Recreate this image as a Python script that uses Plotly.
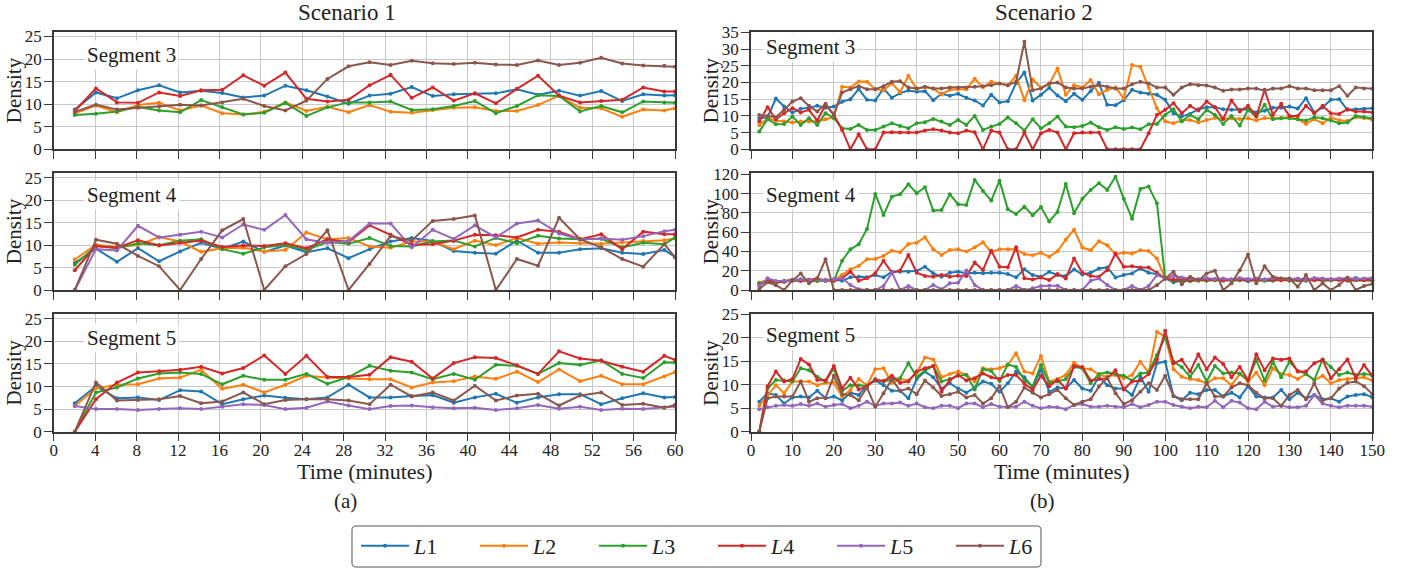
import plotly.graph_objects as go

# ---------------------------------------------------------------------------
# Data: density per lane (L1..L6) over time, two scenarios, three segments
# ---------------------------------------------------------------------------
LANES = ["L1", "L2", "L3", "L4", "L5", "L6"]
LANE_COLORS = ["#1f77b4", "#ff7f0e", "#2ca02c", "#d62728", "#9467bd", "#8c564b"]

# Scenario 1 is sampled every 122 s over one hour
TIME_S1 = [2.03, 4.07, 6.10, 8.13, 10.17, 12.20, 14.23, 16.27, 18.30, 20.33,
           22.37, 24.40, 26.43, 28.47, 30.50, 32.53, 34.57, 36.60, 38.63, 40.67,
           42.70, 44.73, 46.77, 48.80, 50.83, 52.87, 54.90, 56.93, 58.97, 60.00]
# Scenario 2 is sampled every 2 minutes over 150 minutes
TIME_S2 = list(range(2, 151, 2))

# ---- Scenario 1, Segment 3 ----
S1_SEG3_L1 = [8.8, 12.6, 11.3, 13.1, 14.2, 12.6, 13.0, 12.5, 11.5, 11.9,
              14.1, 13.1, 11.7, 10.1, 11.9, 12.3, 13.8, 11.8, 12.2, 12.3,
              12.4, 13.3, 12.1, 13.0, 11.9, 12.9, 10.7, 12.2, 11.9, 12.0]
S1_SEG3_L2 = [8.0, 9.7, 8.2, 9.8, 10.3, 8.6, 9.7, 8.0, 7.7, 8.3,
              10.4, 8.5, 9.4, 8.2, 9.8, 8.3, 8.1, 8.7, 9.2, 9.3,
              8.5, 8.5, 9.8, 11.9, 9.2, 9.1, 7.2, 8.8, 8.6, 9.1]
S1_SEG3_L3 = [7.6, 7.9, 8.4, 9.4, 8.6, 8.2, 10.9, 9.3, 7.7, 8.1,
              10.3, 7.4, 9.3, 10.4, 10.4, 10.6, 8.7, 8.9, 9.6, 10.7,
              8.0, 9.6, 12.0, 11.8, 8.4, 9.6, 8.2, 10.6, 10.4, 10.3]
S1_SEG3_L4 = [8.5, 13.5, 10.4, 10.3, 12.6, 11.8, 13.1, 13.2, 16.4, 14.1,
              17.0, 11.2, 10.6, 11.0, 14.2, 16.5, 11.4, 13.7, 10.8, 12.4,
              10.2, 13.4, 16.3, 11.9, 10.4, 10.7, 11.0, 13.7, 12.8, 12.8]
S1_SEG3_L6 = [8.3, 9.9, 8.8, 9.2, 9.5, 9.9, 9.7, 10.4, 11.2, 9.6,
              8.6, 10.8, 15.6, 18.4, 19.3, 18.7, 19.6, 19.1, 18.9, 19.2,
              18.8, 18.7, 19.7, 18.7, 19.2, 20.3, 19.0, 18.6, 18.5, 18.3]

# ---- Scenario 1, Segment 4 ----
S1_SEG4_L1 = [6.0, 9.2, 6.3, 9.3, 6.4, 8.6, 10.5, 9.2, 10.8, 8.5,
              9.9, 8.4, 9.3, 7.1, 9.1, 10.8, 11.6, 10.9, 8.7, 8.3,
              8.1, 11.0, 8.3, 8.3, 9.1, 9.3, 8.3, 8.0, 8.9, 7.4]
S1_SEG4_L2 = [6.8, 10.1, 9.6, 10.0, 11.8, 10.8, 8.5, 9.3, 9.4, 8.6,
              8.9, 12.8, 11.3, 11.6, 9.7, 9.4, 10.8, 10.8, 9.1, 11.0,
              10.0, 11.6, 10.3, 10.6, 10.4, 10.3, 10.6, 10.9, 11.1, 11.5]
S1_SEG4_L3 = [5.6, 9.8, 9.3, 10.4, 10.0, 11.0, 11.3, 9.1, 8.1, 9.5,
              10.0, 8.9, 10.7, 10.3, 11.6, 9.8, 9.7, 10.8, 11.0, 9.7,
              11.6, 10.4, 12.1, 11.5, 11.3, 11.4, 9.5, 10.5, 10.2, 11.7]
S1_SEG4_L4 = [4.4, 9.8, 9.4, 11.1, 9.9, 10.5, 11.0, 9.6, 9.9, 9.8,
              10.4, 9.3, 11.3, 10.7, 14.4, 12.3, 10.1, 10.2, 11.0, 12.3,
              12.2, 11.7, 13.4, 13.0, 11.3, 12.4, 9.1, 13.0, 12.4, 12.4]
S1_SEG4_L5 = [0.0, 9.1, 8.8, 14.3, 11.7, 12.3, 13.0, 11.7, 14.6, 13.4,
              16.7, 11.3, 10.5, 10.9, 14.8, 14.8, 9.5, 13.4, 11.4, 14.4,
              11.7, 14.8, 15.5, 12.6, 11.3, 11.5, 11.2, 12.0, 13.1, 13.4]
S1_SEG4_L6 = [0.0, 11.2, 10.3, 7.6, 5.3, 0.0, 6.9, 13.3, 15.8, 0.0,
              5.3, 8.0, 13.3, 0.0, 5.8, 12.0, 11.0, 15.4, 15.8, 16.6,
              0.0, 6.9, 5.4, 16.1, 11.3, 9.5, 6.9, 5.2, 10.2, 7.3]

# ---- Scenario 1, Segment 5 ----
S1_SEG5_L1 = [6.3, 10.1, 7.4, 7.6, 7.0, 9.2, 8.9, 6.1, 7.2, 8.0,
              7.5, 7.2, 7.6, 10.4, 7.6, 7.6, 7.9, 8.1, 6.4, 7.6,
              8.4, 6.4, 7.6, 8.3, 8.3, 6.1, 7.4, 8.5, 7.6, 7.7]
S1_SEG5_L2 = [5.7, 9.6, 10.4, 10.5, 11.8, 12.0, 13.7, 9.5, 10.4, 8.7,
              10.4, 12.4, 12.0, 11.8, 11.6, 11.6, 9.8, 10.9, 11.2, 12.2,
              11.7, 13.3, 11.0, 13.8, 11.2, 12.4, 10.5, 10.5, 12.2, 13.2]
S1_SEG5_L3 = [0.0, 8.7, 9.8, 11.8, 12.9, 13.1, 12.8, 10.5, 12.4, 11.5,
              11.5, 12.8, 10.6, 12.1, 14.6, 13.5, 13.1, 11.6, 12.8, 11.5,
              14.8, 14.6, 12.8, 15.2, 14.8, 15.8, 12.8, 11.9, 15.4, 15.3]
S1_SEG5_L4 = [0.0, 7.2, 10.9, 13.1, 13.4, 13.7, 14.4, 12.9, 14.1, 16.9,
              12.8, 16.8, 12.1, 12.1, 12.6, 16.5, 15.5, 11.8, 15.2, 16.5,
              16.3, 14.7, 12.8, 17.8, 16.2, 15.7, 14.4, 13.3, 16.8, 15.9]
S1_SEG5_L5 = [5.7, 5.0, 5.0, 4.8, 5.0, 5.2, 5.0, 5.5, 6.1, 5.9,
              5.0, 5.3, 6.7, 5.8, 5.0, 5.7, 5.8, 5.4, 5.2, 5.3,
              4.8, 5.2, 5.9, 5.1, 5.5, 4.8, 5.1, 5.0, 5.4, 5.6]
S1_SEG5_L6 = [0.0, 10.9, 6.9, 7.0, 7.2, 7.9, 6.3, 6.7, 8.7, 6.1,
              7.0, 7.2, 7.2, 6.9, 6.1, 10.4, 7.8, 8.7, 6.9, 10.2,
              6.9, 8.0, 8.4, 5.8, 8.0, 8.7, 5.9, 6.2, 5.3, 5.9]

# ---- Scenario 2, Segment 3 ----
S2_SEG3_L1 = [9.3, 9.6, 15.2, 12.8, 11.0, 12.1, 12.4, 13.0, 12.4, 12.8,
              14.2, 15.0, 18.0, 14.8, 14.6, 18.2, 15.4, 16.8, 17.6, 17.2,
              17.4, 14.7, 16.6, 16.0, 16.6, 15.4, 14.6, 13.1, 16.3, 14.0,
              14.4, 19.8, 23.0, 14.6, 16.3, 18.4, 16.1, 14.4, 16.6, 14.8,
              17.4, 19.9, 13.3, 13.2, 14.7, 17.8, 17.0, 16.6, 16.3, 14.8,
              10.8, 9.8, 10.6, 12.0, 12.6, 12.6, 12.0, 11.8, 11.8, 12.0,
              11.0, 11.5, 12.4, 12.4, 12.8, 12.2, 15.3, 11.0, 12.5, 14.8,
              15.0, 11.8, 12.0, 12.1, 12.3]
S2_SEG3_L2 = [7.2, 9.3, 8.6, 8.3, 8.0, 8.3, 8.3, 8.3, 9.0, 9.6,
              18.7, 18.5, 20.3, 20.2, 18.0, 17.6, 19.8, 17.1, 22.0, 18.0,
              18.6, 18.2, 16.4, 17.8, 18.0, 18.0, 21.1, 18.6, 20.2, 19.6,
              19.2, 22.0, 14.7, 20.9, 18.5, 19.5, 24.2, 16.3, 19.2, 18.5,
              20.7, 16.5, 17.8, 18.5, 15.2, 25.2, 24.7, 18.5, 12.3, 8.3,
              7.8, 8.6, 8.8, 8.0, 8.8, 9.4, 9.2, 9.3, 9.1, 9.3,
              8.6, 9.4, 9.2, 9.3, 9.6, 9.0, 7.6, 9.0, 7.8, 9.5,
              8.7, 8.5, 9.6, 9.4, 8.8]
S2_SEG3_L3 = [5.3, 9.1, 7.5, 7.6, 9.8, 7.3, 9.3, 7.3, 10.8, 9.3,
              6.3, 6.1, 7.3, 5.8, 5.8, 6.8, 7.8, 7.0, 6.3, 7.8,
              8.1, 9.1, 8.3, 7.3, 8.8, 7.3, 10.0, 5.8, 6.8, 7.6,
              9.5, 7.8, 5.6, 9.0, 6.3, 7.8, 9.8, 6.8, 6.6, 7.0,
              8.0, 6.6, 5.8, 6.6, 6.1, 6.5, 6.0, 7.5, 7.6, 10.3,
              12.0, 8.3, 10.3, 9.0, 11.8, 10.3, 7.6, 10.0, 7.1, 11.8,
              9.8, 13.3, 9.0, 9.3, 9.3, 9.0, 8.6, 9.6, 9.3, 8.6,
              7.8, 8.0, 10.0, 9.6, 9.3]
S2_SEG3_L4 = [8.3, 12.6, 9.0, 10.8, 12.3, 11.0, 11.8, 8.6, 13.3, 10.3,
              5.8, 0.0, 4.5, 0.0, 0.0, 5.0, 5.1, 5.0, 5.0, 5.0,
              5.6, 6.0, 5.6, 5.0, 4.8, 5.6, 5.1, 0.0, 5.6, 5.0,
              0.0, 0.0, 5.0, 0.0, 4.8, 5.8, 5.0, 0.0, 4.8, 5.0,
              5.0, 5.0, 0.0, 0.0, 0.0, 0.0, 0.0, 4.8, 10.3, 11.8,
              13.8, 10.8, 13.0, 11.6, 14.3, 12.6, 9.0, 14.6, 11.3, 13.0,
              9.8, 17.8, 10.3, 13.6, 10.0, 10.0, 13.0, 10.8, 13.0, 10.8,
              10.6, 12.0, 11.3, 11.3, 11.0]
S2_SEG3_L6 = [10.3, 10.0, 9.6, 11.8, 14.3, 15.3, 13.0, 11.3, 13.6, 10.3,
              17.0, 18.0, 18.9, 18.0, 18.0, 18.9, 20.2, 20.4, 18.5, 18.2,
              18.7, 18.2, 18.2, 18.5, 18.5, 18.5, 18.7, 18.9, 19.2, 19.7,
              19.2, 20.2, 32.2, 17.7, 18.2, 19.7, 20.0, 18.5, 18.2, 18.2,
              18.7, 19.2, 18.7, 18.2, 18.2, 19.5, 20.2, 19.7, 18.5, 18.5,
              16.3, 18.5, 19.5, 19.2, 19.1, 18.5, 17.5, 17.9, 17.9, 18.2,
              18.2, 17.5, 18.2, 18.2, 18.9, 18.2, 18.2, 17.7, 17.7, 17.7,
              18.9, 16.0, 18.5, 18.2, 18.1]

# ---- Scenario 2, Segment 4 ----
S2_SEG4_L1 = [7.5, 10.0, 8.0, 9.5, 10.5, 11.0, 10.5, 10.0, 10.5, 10.5,
              9.7, 13.1, 13.8, 13.1, 15.6, 13.1, 19.0, 19.0, 19.0, 19.7,
              24.2, 17.3, 13.8, 18.0, 19.0, 17.3, 18.0, 17.3, 18.0, 18.0,
              16.6, 13.1, 21.4, 15.5, 13.7, 18.9, 15.5, 14.4, 21.3, 16.2,
              17.9, 22.3, 23.4, 13.0, 15.5, 17.2, 22.3, 17.9, 16.5, 12.0,
              8.0, 9.5, 10.5, 11.0, 10.0, 10.5, 9.5, 11.0, 10.5, 9.0,
              10.5, 10.0, 9.5, 11.0, 10.5, 10.0, 9.5, 10.5, 10.0, 10.0,
              11.0, 10.5, 12.5, 10.5, 10.0]
S2_SEG4_L2 = [7.5, 10.0, 8.5, 9.5, 10.0, 9.5, 10.0, 9.0, 10.0, 10.5,
              15.6, 21.4, 24.9, 31.8, 32.2, 35.3, 40.8, 39.1, 47.7, 49.1,
              54.6, 42.2, 36.3, 41.5, 42.2, 39.8, 44.3, 49.4, 39.1, 42.2,
              42.2, 42.2, 37.3, 36.0, 38.5, 34.4, 40.2, 52.2, 62.5, 44.0,
              41.2, 50.5, 46.4, 37.1, 38.5, 37.8, 41.2, 40.5, 32.6, 12.0,
              10.5, 11.0, 10.0, 10.5, 11.5, 10.0, 10.5, 11.0, 10.0, 10.5,
              9.5, 10.5, 11.0, 10.0, 10.5, 11.0, 10.0, 10.5, 11.0, 10.0,
              10.5, 10.0, 11.0, 10.5, 10.0]
S2_SEG4_L3 = [6.9, 8.6, 7.6, 8.6, 9.7, 9.7, 9.7, 9.7, 9.7, 9.7,
              30.4, 42.2, 47.4, 63.3, 99.6, 77.8, 96.8, 99.2, 109.6, 100.3,
              106.5, 82.3, 83.0, 99.2, 88.9, 88.2, 114.1, 102.7, 92.7, 113.4,
              83.7, 78.8, 86.4, 77.5, 86.0, 71.0, 81.0, 110.0, 79.7, 94.5,
              103.8, 110.7, 103.8, 117.5, 94.5, 73.9, 104.8, 107.2, 90.0, 12.0,
              9.5, 10.0, 9.0, 10.0, 9.5, 10.0, 10.5, 9.5, 10.0, 10.5,
              10.0, 9.5, 10.0, 10.5, 9.5, 10.0, 10.0, 10.5, 9.5, 10.0,
              10.5, 9.5, 10.0, 10.0, 9.5]
S2_SEG4_L4 = [5.2, 9.7, 8.6, 8.6, 10.4, 9.7, 10.4, 12.1, 9.7, 9.7,
              12.1, 19.0, 9.7, 12.1, 17.3, 30.4, 18.0, 20.1, 36.3, 18.0,
              14.5, 13.8, 15.6, 13.8, 14.9, 14.5, 28.4, 20.7, 40.8, 24.2,
              23.5, 44.3, 12.1, 11.0, 13.0, 10.3, 16.5, 12.0, 32.6, 17.9,
              14.4, 13.7, 20.6, 37.8, 24.0, 24.7, 23.4, 23.4, 17.9, 12.0,
              10.5, 11.5, 10.0, 11.0, 10.5, 11.0, 10.0, 10.5, 11.0, 10.5,
              10.0, 11.0, 10.5, 10.0, 10.5, 11.0, 10.5, 10.0, 10.5, 11.0,
              10.5, 10.0, 10.5, 10.0, 10.5]
S2_SEG4_L5 = [4.1, 12.1, 9.3, 9.3, 9.7, 11.1, 9.7, 11.1, 9.7, 11.1,
              12.1, 5.2, 0.7, 0.0, 0.0, 4.1, 18.0, 0.0, 4.1, 0.0,
              0.0, 5.2, 0.7, 6.9, 7.6, 20.1, 5.2, 0.0, 0.0, 0.0,
              0.0, 4.1, 0.0, 1.7, 4.1, 4.5, 4.5, 0.0, 0.0, 0.0,
              9.6, 12.0, 5.2, 0.0, 0.0, 4.1, 0.0, 4.1, 15.5, 12.0,
              14.5, 13.0, 12.0, 11.0, 12.5, 11.5, 12.0, 11.0, 12.5, 11.5,
              12.0, 11.0, 12.5, 12.0, 11.5, 12.0, 11.0, 12.5, 12.0, 11.5,
              12.0, 12.5, 11.5, 12.0, 12.5]
S2_SEG4_L6 = [1.0, 8.0, 5.0, 0.0, 10.0, 17.0, 7.0, 12.0, 32.0, 0.0,
              0.0, 0.0, 0.0, 0.0, 0.0, 0.0, 0.0, 0.0, 0.0, 0.0,
              0.0, 0.0, 0.0, 0.0, 0.0, 0.0, 0.0, 0.0, 0.0, 0.0,
              0.0, 0.0, 0.0, 0.0, 0.0, 0.0, 0.0, 0.0, 0.0, 0.0,
              0.0, 0.0, 0.0, 0.0, 0.0, 0.0, 0.0, 0.0, 5.0, 12.0,
              19.0, 6.0, 13.7, 9.6, 17.2, 20.0, 0.0, 6.9, 20.6, 36.8,
              6.9, 24.7, 13.7, 12.0, 12.0, 3.4, 15.5, 0.0, 6.9, 0.0,
              5.2, 13.0, 0.0, 4.1, 6.2]

# ---- Scenario 2, Segment 5 ----
S2_SEG5_L1 = [6.4, 8.2, 7.8, 6.0, 7.3, 7.5, 7.3, 8.7, 7.1, 7.5,
              6.7, 8.3, 7.8, 9.9, 10.9, 9.9, 8.7, 8.7, 7.1, 11.2,
              12.8, 11.6, 9.2, 10.3, 9.2, 8.3, 9.4, 10.7, 10.2, 8.5,
              10.3, 12.8, 11.6, 9.4, 13.3, 8.5, 9.4, 9.2, 11.0, 9.2,
              8.7, 11.7, 9.9, 9.2, 9.2, 7.8, 11.7, 8.5, 14.6, 14.9,
              7.6, 6.7, 8.3, 8.0, 8.9, 8.9, 7.5, 8.3, 7.3, 9.7,
              7.5, 7.3, 7.3, 8.9, 6.9, 8.3, 7.1, 7.8, 6.9, 7.1,
              6.4, 7.5, 7.8, 8.0, 7.3]
S2_SEG5_L2 = [5.5, 7.8, 9.9, 8.2, 10.7, 10.7, 10.7, 9.9, 10.4, 10.4,
              7.5, 8.9, 11.2, 9.9, 13.3, 13.5, 10.4, 11.2, 10.9, 12.6,
              15.8, 15.4, 11.6, 12.3, 12.8, 12.1, 10.7, 13.5, 13.3, 13.5,
              14.2, 16.7, 12.8, 12.4, 16.1, 10.7, 11.2, 12.1, 14.7, 13.5,
              13.3, 12.1, 11.7, 12.1, 11.4, 12.1, 14.9, 12.6, 21.3, 20.2,
              13.3, 11.7, 11.2, 11.0, 10.3, 11.4, 11.4, 9.9, 12.3, 10.7,
              12.6, 9.9, 13.5, 12.3, 12.1, 11.2, 12.3, 11.0, 11.9, 10.3,
              11.0, 11.2, 11.4, 11.6, 10.9]
S2_SEG5_L3 = [0.0, 9.2, 11.0, 10.9, 10.7, 13.5, 13.1, 11.7, 10.7, 13.5,
              8.7, 9.9, 9.9, 9.7, 11.2, 10.7, 11.0, 11.4, 14.6, 11.7,
              13.0, 14.0, 10.7, 11.2, 11.9, 12.1, 9.0, 13.3, 12.9, 10.8,
              14.3, 13.8, 11.0, 9.7, 14.2, 10.4, 10.7, 11.2, 13.8, 13.5,
              10.3, 12.3, 12.6, 12.3, 11.9, 10.9, 12.4, 12.6, 16.3, 20.2,
              14.9, 13.8, 11.7, 14.2, 10.7, 14.0, 12.4, 12.6, 12.4, 11.0,
              15.3, 10.9, 14.9, 11.6, 14.9, 13.0, 12.3, 11.0, 15.4, 13.8,
              12.1, 12.6, 12.1, 12.3, 12.1]
S2_SEG5_L4 = [0.0, 9.7, 12.8, 10.7, 11.2, 15.5, 14.3, 11.0, 10.9, 14.0,
              9.2, 11.5, 9.0, 9.7, 11.0, 10.8, 11.9, 10.4, 10.7, 12.8,
              13.5, 14.0, 8.5, 11.0, 12.1, 10.9, 11.4, 12.4, 11.6, 11.2,
              12.1, 12.1, 10.2, 8.9, 11.9, 9.7, 11.0, 9.2, 14.0, 13.8,
              10.9, 11.2, 11.4, 13.1, 9.0, 10.7, 10.9, 12.3, 15.3, 21.5,
              14.6, 15.3, 12.8, 16.5, 13.3, 15.8, 14.4, 11.6, 13.8, 11.0,
              16.5, 13.1, 15.6, 15.3, 15.6, 12.8, 12.8, 14.6, 15.3, 11.4,
              13.3, 15.4, 11.4, 14.2, 11.9]
S2_SEG5_L5 = [4.8, 5.2, 5.5, 5.7, 5.5, 5.9, 5.5, 6.0, 5.3, 5.7,
              5.9, 5.0, 5.5, 6.4, 5.5, 6.0, 6.0, 6.2, 5.5, 6.0,
              5.2, 5.0, 5.5, 5.5, 5.0, 6.0, 6.0, 5.2, 5.9, 5.3,
              5.3, 5.3, 6.4, 5.5, 5.0, 5.3, 5.2, 4.8, 5.7, 5.9,
              5.3, 5.3, 5.5, 5.3, 5.2, 5.9, 5.2, 5.7, 6.4, 6.4,
              5.7, 5.3, 5.0, 5.3, 5.2, 6.6, 5.2, 6.6, 6.2, 5.0,
              4.8, 6.4, 5.3, 5.5, 5.2, 5.2, 5.5, 7.8, 6.0, 5.5,
              5.2, 5.5, 5.5, 5.5, 5.3]
S2_SEG5_L6 = [0.0, 7.1, 7.5, 7.5, 7.5, 10.7, 6.4, 7.1, 7.2, 11.9,
              8.0, 7.8, 6.7, 9.4, 5.3, 8.2, 11.2, 8.7, 9.2, 8.0,
              10.9, 9.4, 7.6, 8.0, 8.5, 7.3, 7.8, 6.0, 7.1, 9.7,
              5.2, 6.4, 9.4, 8.3, 7.3, 8.0, 8.9, 7.1, 5.7, 6.4,
              6.9, 9.6, 11.4, 8.2, 5.9, 6.7, 8.5, 10.3, 8.9, 11.9,
              7.6, 6.9, 6.9, 6.9, 10.3, 7.5, 7.5, 9.4, 10.3, 9.9,
              8.3, 7.1, 7.1, 5.5, 7.8, 8.9, 6.9, 10.3, 6.7, 7.1,
              9.2, 10.4, 10.7, 9.7, 8.0]

# ---------------------------------------------------------------------------
# Figure geometry (pixels in a 1409 x 569 canvas)
# ---------------------------------------------------------------------------
W, H = 1409, 569
FONT = "Liberation Serif"
INK = "#222222"
FRAME = "#3a3a3a"
GRID = "#c8c8c8"


def fx(px):
    return px / W


def fy(py):
    return 1 - py / H


COL_PX = [(53.8, 675.0), (751.0, 1372.3)]
ROW_PX = [(32.0, 149.3), (173.3, 290.0), (314.3, 431.7)]

panels = [
    dict(row=0, col=0, t=TIME_S1, seg="Segment 3", ymax=26, dy=5, label_y=0.804,
         series={"L1": S1_SEG3_L1, "L2": S1_SEG3_L2, "L3": S1_SEG3_L3,
                 "L4": S1_SEG3_L4, "L6": S1_SEG3_L6}),
    dict(row=0, col=1, t=TIME_S2, seg="Segment 3", ymax=35.1, dy=5, label_y=0.868,
         series={"L1": S2_SEG3_L1, "L2": S2_SEG3_L2, "L3": S2_SEG3_L3,
                 "L4": S2_SEG3_L4, "L6": S2_SEG3_L6}),
    dict(row=1, col=0, t=TIME_S1, seg="Segment 4", ymax=26, dy=5, label_y=0.811,
         series={"L1": S1_SEG4_L1, "L2": S1_SEG4_L2, "L3": S1_SEG4_L3,
                 "L4": S1_SEG4_L4, "L5": S1_SEG4_L5, "L6": S1_SEG4_L6}),
    dict(row=1, col=1, t=TIME_S2, seg="Segment 4", ymax=121, dy=20, label_y=0.817,
         series={"L1": S2_SEG4_L1, "L2": S2_SEG4_L2, "L3": S2_SEG4_L3,
                 "L4": S2_SEG4_L4, "L5": S2_SEG4_L5, "L6": S2_SEG4_L6}),
    dict(row=2, col=0, t=TIME_S1, seg="Segment 5", ymax=26, dy=5, label_y=0.798,
         series={"L1": S1_SEG5_L1, "L2": S1_SEG5_L2, "L3": S1_SEG5_L3,
                 "L4": S1_SEG5_L4, "L5": S1_SEG5_L5, "L6": S1_SEG5_L6}),
    dict(row=2, col=1, t=TIME_S2, seg="Segment 5", ymax=25, dy=5, label_y=0.826,
         series={"L1": S2_SEG5_L1, "L2": S2_SEG5_L2, "L3": S2_SEG5_L3,
                 "L4": S2_SEG5_L4, "L5": S2_SEG5_L5, "L6": S2_SEG5_L6}),
]

fig = go.Figure()
layout = {}
annotations = []

for i, p in enumerate(panels):
    sfx = "" if i == 0 else str(i + 1)
    xname, yname = "x" + sfx, "y" + sfx
    x0, x1 = COL_PX[p["col"]]
    top, bot = ROW_PX[p["row"]]
    left_col = p["col"] == 0
    bottom_row = p["row"] == 2

    for k, lane in enumerate(LANES):
        if lane not in p["series"]:
            continue
        fig.add_trace(go.Scatter(
            x=p["t"], y=p["series"][lane], name=f"<i>L</i>{lane[1]}",
            mode="lines+markers", xaxis=xname, yaxis=yname,
            line=dict(color=LANE_COLORS[k], width=2),
            marker=dict(color=LANE_COLORS[k], size=4),
            legendgroup=lane, legendrank=k + 1,
            showlegend=(i == 4), cliponaxis=False,
        ))

    common = dict(showline=True, linecolor=FRAME, linewidth=1.5, mirror=True,
                  showgrid=True, gridcolor=GRID, gridwidth=1.3, zeroline=False,
                  ticks="outside", ticklen=8, tickwidth=1.3, tickcolor=FRAME,
                  tickfont=dict(family=FONT, size=17, color=INK))
    layout["xaxis" + sfx] = dict(
        common, domain=[fx(x0), fx(x1)], anchor=yname,
        range=[0, 60] if left_col else [0, 150],
        tick0=0, dtick=4 if left_col else 10,
        showticklabels=bottom_row, ticklabelstandoff=-6,
    )
    layout["yaxis" + sfx] = dict(
        common, domain=[fy(bot), fy(top)], anchor=xname,
        range=[0, p["ymax"]], tick0=0, dtick=p["dy"], ticklabelstandoff=-1,
    )

    # Segment label inside the panel
    annotations.append(dict(
        text=p["seg"], xref=xname + " domain", yref=yname + " domain",
        x=0.049 if left_col else 0.0193, y=p["label_y"],
        xanchor="left", yanchor="middle", showarrow=False,
        bgcolor="white", borderpad=2,
        font=dict(family=FONT, size=21, color=INK),
    ))
    # Y-axis title
    annotations.append(dict(
        text="Density", xref="paper", yref=yname + " domain",
        x=fx(13.5 if left_col else 710.7), y=0.5, textangle=-90,
        xanchor="center", yanchor="middle", showarrow=False,
        font=dict(family=FONT, size=21, color=INK),
    ))
    if bottom_row:
        annotations.append(dict(
            text="Time (minutes)", xref="paper", yref="paper",
            x=fx((x0 + x1) / 2), y=fy(471.0), xanchor="center", yanchor="middle",
            showarrow=False, font=dict(family=FONT, size=22, color=INK),
        ))

# Column titles and sub-figure tags
for text, cx, cy, size in [("Scenario 1", 346.5, 13.0, 23), ("Scenario 2", 1043.5, 13.0, 23),
                           ("(a)", 345.0, 500.5, 21), ("(b)", 1042.0, 501.0, 21)]:
    annotations.append(dict(
        text=text, xref="paper", yref="paper", x=fx(cx), y=fy(cy),
        xanchor="center", yanchor="middle", showarrow=False,
        font=dict(family=FONT, size=size, color=INK),
    ))


def rounded_box(x0, y0, x1, y1, r):
    """SVG path (paper units) of a rounded rectangle given in pixels."""
    def P(px, py):
        return f"{fx(px):.5f},{fy(py):.5f}"
    return (f"M {P(x0 + r, y0)} L {P(x1 - r, y0)} Q {P(x1, y0)} {P(x1, y0 + r)} "
            f"L {P(x1, y1 - r)} Q {P(x1, y1)} {P(x1 - r, y1)} "
            f"L {P(x0 + r, y1)} Q {P(x0, y1)} {P(x0, y1 - r)} "
            f"L {P(x0, y0 + r)} Q {P(x0, y0)} {P(x0 + r, y0)} Z")


fig.update_layout(
    width=W, height=H,
    margin=dict(l=0, r=0, t=0, b=0, autoexpand=False),
    paper_bgcolor="white", plot_bgcolor="white",
    font=dict(family=FONT, color=INK),
    annotations=annotations,
    shapes=[dict(type="path", xref="paper", yref="paper",
                 path=rounded_box(352, 526, 1041, 567, 4),
                 line=dict(color="#555555", width=1), fillcolor="rgba(0,0,0,0)",
                 layer="above")],
    legend=dict(
        orientation="h", x=fx(713.0), xanchor="center", y=fy(546), yanchor="middle",
        font=dict(family=FONT, size=22, color=INK),
        itemwidth=48, entrywidth=56, entrywidthmode="pixels",
        bgcolor="rgba(0,0,0,0)", borderwidth=0,
        traceorder="normal",
    ),
    **layout,
)

fig.write_html("out.html")
